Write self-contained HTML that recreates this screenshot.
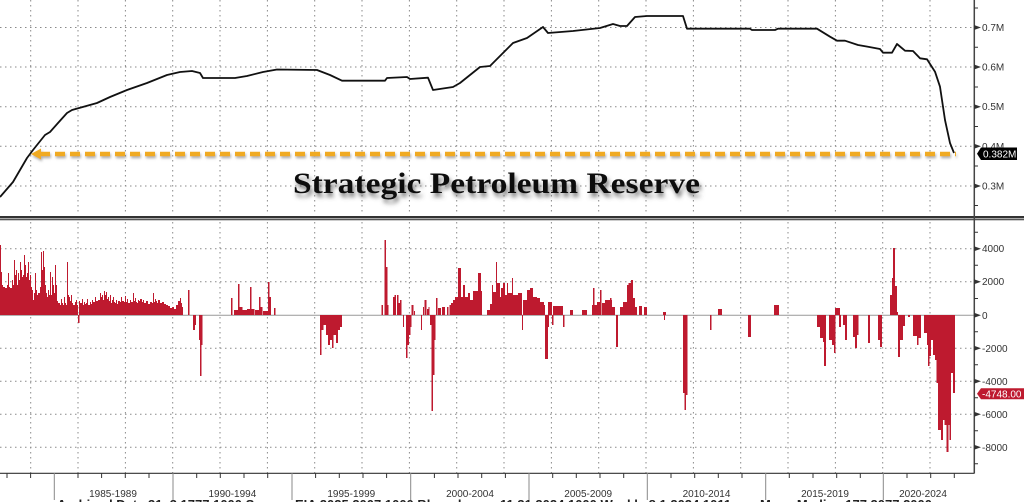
<!DOCTYPE html>
<html><head><meta charset="utf-8"><style>
html,body{margin:0;padding:0;background:#fff;}
svg{display:block;}
text{font-family:"Liberation Sans",sans-serif;}
</style></head><body>
<svg width="1024" height="502" viewBox="0 0 1024 502" xmlns="http://www.w3.org/2000/svg">
<defs>
<filter id="sh" x="-10%" y="-40%" width="120%" height="190%">
<feGaussianBlur in="SourceAlpha" stdDeviation="2"/>
<feOffset dx="2" dy="4" result="b"/>
<feFlood flood-color="#555" flood-opacity="0.75"/>
<feComposite in2="b" operator="in"/>
<feMerge><feMergeNode/><feMergeNode in="SourceGraphic"/></feMerge>
</filter>
<filter id="sh2" x="-5%" y="-200%" width="110%" height="500%">
<feGaussianBlur in="SourceAlpha" stdDeviation="1.2"/>
<feOffset dx="1" dy="2" result="b"/>
<feFlood flood-color="#777" flood-opacity="0.6"/>
<feComposite in2="b" operator="in"/>
<feMerge><feMergeNode/><feMergeNode in="SourceGraphic"/></feMerge>
</filter>
</defs>
<rect width="1024" height="502" fill="#fff"/>

<g stroke="#8a8a8a" stroke-width="1" stroke-dasharray="1.5 3.5">
<path d="M30.7 0V215M78 0V215M125.4 0V215M172.7 0V215M220 0V215M267.4 0V215M314.7 0V215M362 0V215M409.4 0V215M456.7 0V215M504 0V215M551.4 0V215M598.7 0V215M646 0V215M693.4 0V215M740.7 0V215M788 0V215M835.4 0V215M882.7 0V215M930 0V215"/>
<path d="M30.7 222V473M78 222V473M125.4 222V473M172.7 222V473M220 222V473M267.4 222V473M314.7 222V473M362 222V473M409.4 222V473M456.7 222V473M504 222V473M551.4 222V473M598.7 222V473M646 222V473M693.4 222V473M740.7 222V473M788 222V473M835.4 222V473M882.7 222V473M930 222V473"/>
<path d="M0 27.5H974M0 67H974M0 106.7H974M0 146.3H974M0 186H974"/>
<path d="M0 248.7H974M0 281.7H974M0 348.3H974M0 381.3H974M0 414.3H974M0 447.3H974"/>
</g>

<rect x="0" y="216" width="1024" height="2" fill="#333"/>
<rect x="0" y="218.5" width="1024" height="1.8" fill="#555"/>

<polyline fill="none" stroke="#111" stroke-width="1.8" stroke-linejoin="round" points="0,197 13,182 27,158 33,150 45,135 50,132 58,123 67,113 72,110 97,103 110,97 127,90 147,83 167,75 180,72 192,71 200,73 203,78 235,78 247,76 263,72 277,69.5 317,70 330,75 342,80.7 385,80.7 387,78 407,77 410,79 428,77.7 433,90 453,87 460,83 480,67 490,66 513,43 527,38 543,27 548,33 573,31 600,28 613,24 620,26 627,26 635,17 647,16 683,16 687,28.7 750,28.7 752,30 775,30 778,28.7 817,28.7 830,36.7 837,40.7 845,40.7 858,45 868,46.7 880,49 883,52.7 892,52.7 897,44 905,50.7 913,51 920,58.3 927,59.3 935,71.7 940,86.7 945,120 950,143 954,153"/>

<g filter="url(#sh2)">
<line x1="40" y1="154" x2="956" y2="154" stroke="#f0aa22" stroke-width="4.5" stroke-dasharray="10 5"/>
<polygon points="31,154 41,148.5 41,159.5" fill="#f0aa22"/>
</g>

<text x="293" y="193" font-family="Liberation Serif, serif" font-weight="bold" font-size="30" fill="#111" textLength="407" lengthAdjust="spacingAndGlyphs" filter="url(#sh)" style="font-family:'Liberation Serif',serif">Strategic Petroleum Reserve</text>

<line x1="0" y1="315.3" x2="974" y2="315.3" stroke="#999" stroke-width="1"/>

<g fill="#be1a2f">
<path d="M0 315 V245 H1 V272 H2 V285 H3 V287 H5 V288 H7 V285 H8 V273 H9 V287 H10 V288 H12 V280 H13 V285 H14 V260 H15 V275 H16 V270 H17 V285 H18 V273 H19 V280 H20 V262 H21 V270 H22 V277 H23 V275 H24 V255 H25 V265 H26 V277 H27 V273 H28 V262 H29 V280 H30 V275 H31 V287 H32 V290 H33 V300 H34 V293 H35 V273 H36 V290 H37 V295 H38 V293 H40 V287 H41 V252 H42 V270 H43 V251 H44 V267 H45 V285 H46 V293 H47 V297 H48 V290 H49 V295 H50 V272 H51 V295 H52 V277 H53 V285 H54 V293 H55 V265 H56 V285 H57 V301 H58 V303 H60 V305 H61 V299 H62 V303 H63 V305 H64 V297 H65 V303 H66 V305 H67 V262 H68 V295 H69 V297 H70 V301 H71 V295 H72 V303 H73 V305 H75 V302 H76 V300 H77 V305 H78 V315 H79 V301 H80 V303 H82 V299 H83 V305 H84 V302 H85 V304 H86 V303 H87 V299 H88 V305 H90 V302 H91 V304 H92 V300 H93 V302 H95 V297 H96 V301 H98 V300 H100 V293 H101 V297 H102 V295 H103 V300 H104 V291 H105 V295 H106 V292 H107 V299 H108 V297 H109 V301 H110 V295 H111 V303 H112 V300 H113 V297 H114 V302 H115 V303 H116 V300 H117 V304 H118 V301 H120 V302 H121 V297 H122 V301 H124 V302 H125 V296 H126 V302 H127 V299 H128 V303 H130 V300 H131 V302 H133 V293 H134 V301 H135 V298 H136 V302 H137 V303 H138 V300 H139 V301 H140 V299 H142 V302 H143 V300 H144 V303 H146 V301 H148 V304 H150 V302 H152 V303 H153 V293 H154 V302 H155 V299 H156 V301 H157 V303 H158 V300 H160 V303 H162 V302 H164 V304 H166 V305 H168 V306 H170 V308 H172 V307 H174 V309 H176 V305 H178 V301 H180 V298 H181 V303 H182 V307 H183 V315 H188 V290 H189.5 V315 Z"/>
<path d="M451 315 V303 H453 V300 H455 V297 H458 V268 H461 V297 H463 V285 H465 V297 H468 V293 H470 V300 H473 V291 H478 V273 H481 V291 H482 V315 H487 V310 H490 V304 H492 V285 H493 V292 H496 V262 H497 V283 H500 V297 H501 V288 H503 V283 H505 V295 H507 V283 H508 V293 H512 V278 H513 V295 H518 V293 H522 V315 H523 V300 H527 V290 H530 V288 H533 V297 H537 V298 H540 V302 H544 V305 H545 V315 Z"/>
<path d="M924 315 V333 H927 V345 H928 V366 H929.5 V356 H931 V340 H933 V355 H935 V360 H936.5 V383 H938 V430 H941 V440 H943 V420 H944.5 V425 H946.5 V452 H948.5 V425 H949.5 V440 H951 V373 H953 V393 H955 V315 Z"/>
<rect x="231" y="298" width="1.5" height="17"/>
<rect x="234" y="310" width="4" height="5"/>
<rect x="238" y="284" width="1.5" height="31"/>
<rect x="239.5" y="307" width="3" height="8"/>
<rect x="242" y="310" width="5" height="5"/>
<rect x="247" y="309" width="3" height="6"/>
<rect x="250" y="287" width="1.5" height="28"/>
<rect x="251.5" y="309" width="3" height="6"/>
<rect x="255" y="310" width="4" height="5"/>
<rect x="259" y="297" width="1.5" height="18"/>
<rect x="260.5" y="307" width="2" height="8"/>
<rect x="263" y="311" width="3" height="4"/>
<rect x="266" y="311" width="2" height="4"/>
<rect x="268" y="282" width="1.5" height="33"/>
<rect x="269.5" y="297" width="1.5" height="18"/>
<rect x="274" y="308" width="1.5" height="7"/>
<rect x="381.5" y="305" width="1.5" height="10"/>
<rect x="384.5" y="240" width="1.5" height="75"/>
<rect x="386" y="267" width="1.5" height="48"/>
<rect x="387.5" y="305" width="1" height="10"/>
<rect x="393" y="297" width="1.5" height="18"/>
<rect x="394.5" y="295" width="1.5" height="20"/>
<rect x="397" y="295" width="1.5" height="20"/>
<rect x="398.5" y="303" width="1.5" height="12"/>
<rect x="400" y="300" width="1.5" height="15"/>
<rect x="411.5" y="305" width="2" height="10"/>
<rect x="414" y="311" width="1" height="4"/>
<rect x="423" y="307" width="1" height="8"/>
<rect x="424.5" y="300" width="2" height="15"/>
<rect x="427" y="309" width="1.5" height="6"/>
<rect x="428.5" y="307" width="1" height="8"/>
<rect x="436" y="298" width="1.5" height="17"/>
<rect x="438" y="308" width="3" height="7"/>
<rect x="442" y="307" width="3" height="8"/>
<rect x="447" y="307" width="1.5" height="8"/>
<rect x="449.5" y="305" width="1.5" height="10"/>
<rect x="548" y="302" width="4" height="13"/>
<rect x="553" y="306" width="10" height="9"/>
<rect x="570" y="310" width="3" height="5"/>
<rect x="582" y="310" width="5" height="5"/>
<rect x="592" y="305" width="5" height="10"/>
<rect x="593" y="288" width="1.5" height="27"/>
<rect x="597" y="302" width="3" height="13"/>
<rect x="600" y="290" width="1.5" height="25"/>
<rect x="602" y="303" width="3" height="12"/>
<rect x="605" y="300" width="7" height="15"/>
<rect x="610" y="298" width="1.5" height="17"/>
<rect x="612" y="307" width="3" height="8"/>
<rect x="620" y="307" width="3" height="8"/>
<rect x="623" y="302" width="4" height="13"/>
<rect x="627" y="285" width="1.5" height="30"/>
<rect x="628.5" y="283" width="2.5" height="32"/>
<rect x="631" y="280" width="2" height="35"/>
<rect x="633" y="298" width="2" height="17"/>
<rect x="635" y="307" width="2" height="8"/>
<rect x="639" y="306" width="3" height="9"/>
<rect x="644" y="307" width="3" height="8"/>
<rect x="663" y="312" width="3" height="3"/>
<rect x="718" y="309" width="4" height="6"/>
<rect x="774" y="305" width="5" height="10"/>
<rect x="835" y="308" width="5" height="7"/>
<rect x="890" y="295" width="2" height="20"/>
<rect x="892" y="278" width="1" height="37"/>
<rect x="893" y="248" width="2" height="67"/>
<rect x="895" y="286" width="2" height="29"/>
<rect x="897" y="312" width="1" height="3"/>
<rect x="78" y="315" width="1.5" height="8"/>
<rect x="193" y="315" width="2" height="15"/>
<rect x="195" y="315" width="1" height="10"/>
<rect x="199" y="315" width="1" height="25"/>
<rect x="200" y="315" width="1.5" height="61"/>
<rect x="201.5" y="315" width="1" height="30"/>
<rect x="320" y="315" width="1.5" height="40"/>
<rect x="321.5" y="315" width="2" height="15"/>
<rect x="323.5" y="315" width="2.5" height="10"/>
<rect x="326" y="315" width="2" height="20"/>
<rect x="328" y="315" width="2" height="30"/>
<rect x="330" y="315" width="2" height="25"/>
<rect x="332" y="315" width="1.5" height="33"/>
<rect x="333.5" y="315" width="2.5" height="20"/>
<rect x="336" y="315" width="2" height="28"/>
<rect x="338" y="315" width="2" height="15"/>
<rect x="340" y="315" width="2" height="12"/>
<rect x="403" y="315" width="1" height="12"/>
<rect x="406" y="315" width="1.5" height="43"/>
<rect x="407.5" y="315" width="1.5" height="30"/>
<rect x="409" y="315" width="1.5" height="20"/>
<rect x="410.5" y="315" width="1" height="12"/>
<rect x="421" y="315" width="1" height="15"/>
<rect x="430" y="315" width="1.5" height="10"/>
<rect x="431.5" y="315" width="1.5" height="96"/>
<rect x="433" y="315" width="1.5" height="60"/>
<rect x="434.5" y="315" width="1" height="25"/>
<rect x="522" y="315" width="1" height="15"/>
<rect x="545" y="315" width="3" height="44"/>
<rect x="548" y="315" width="1" height="12"/>
<rect x="552" y="315" width="1.5" height="10"/>
<rect x="563" y="315" width="1.5" height="12"/>
<rect x="616" y="315" width="2" height="32"/>
<rect x="664" y="315" width="1" height="5"/>
<rect x="683" y="315" width="1.5" height="78"/>
<rect x="684.5" y="315" width="1.5" height="95"/>
<rect x="686" y="315" width="1.5" height="80"/>
<rect x="710" y="315" width="1.5" height="15"/>
<rect x="748" y="315" width="3" height="22"/>
<rect x="817" y="315" width="3" height="12"/>
<rect x="820" y="315" width="3" height="23"/>
<rect x="823" y="315" width="1" height="27"/>
<rect x="824" y="315" width="2" height="51"/>
<rect x="829" y="315" width="3" height="25"/>
<rect x="832" y="315" width="2" height="30"/>
<rect x="834" y="315" width="1.5" height="38"/>
<rect x="839" y="315" width="2" height="12"/>
<rect x="843" y="315" width="2" height="10"/>
<rect x="845" y="315" width="2" height="25"/>
<rect x="853" y="315" width="2" height="22"/>
<rect x="855" y="315" width="2" height="33"/>
<rect x="857" y="315" width="1.5" height="20"/>
<rect x="868" y="315" width="2" height="28"/>
<rect x="878" y="315" width="2" height="25"/>
<rect x="880" y="315" width="2" height="32"/>
<rect x="898" y="315" width="2" height="42"/>
<rect x="900" y="315" width="3" height="25"/>
<rect x="903" y="315" width="2" height="11"/>
<rect x="908" y="315" width="2" height="2"/>
<rect x="913" y="315" width="4" height="21"/>
<rect x="917" y="315" width="1.5" height="30"/>
<rect x="918.5" y="315" width="2.5" height="23"/>
</g>

<line x1="974.3" y1="0" x2="974.3" y2="473.5" stroke="#444" stroke-width="1.5"/>
<line x1="0" y1="473.3" x2="974.3" y2="473.3" stroke="#333" stroke-width="1.2"/>

<g fill="#333">
<polygon points="974,25 981,27.5 974,30"/>
<polygon points="974,64.5 981,67 974,69.5"/>
<polygon points="974,104.2 981,106.7 974,109.2"/>
<polygon points="974,143.8 981,146.3 974,148.8"/>
<polygon points="974,183.5 981,186 974,188.5"/>
<polygon points="974,246.2 981,248.7 974,251.2"/>
<polygon points="974,279.2 981,281.7 974,284.2"/>
<polygon points="974,312.8 981,315.3 974,317.8"/>
<polygon points="974,345.8 981,348.3 974,350.8"/>
<polygon points="974,378.8 981,381.3 974,383.8"/>
<polygon points="974,411.8 981,414.3 974,416.8"/>
<polygon points="974,444.8 981,447.3 974,449.8"/>
</g>
<g stroke="#333" stroke-width="1">
<path d="M974 8H978M974 47.3H978M974 87H978M974 126.5H978M974 166H978M974 205.5H978"/>
<path d="M974 232.2H978M974 265.2H978M974 298.5H978M974 331.8H978M974 364.8H978M974 397.8H978M974 430.8H978M974 463.8H978"/>
</g>

<g font-size="10" fill="#333">
<text x="982" y="31">0.7M</text>
<text x="982" y="70.5">0.6M</text>
<text x="982" y="110.2">0.5M</text>
<text x="982" y="149.8">0.4M</text>
<text x="982" y="189.5">0.3M</text>
<text x="982" y="252.2">4000</text>
<text x="982" y="285.2">2000</text>
<text x="982" y="318.8">0</text>
<text x="982" y="351.8">-2000</text>
<text x="982" y="384.8">-4000</text>
<text x="982" y="417.8">-6000</text>
<text x="982" y="450.8">-8000</text>
</g>

<polygon points="977,153.8 981,147.5 1017,147.5 1017,160 981,160" fill="#000"/>
<text x="983" y="157.7" font-size="10" fill="#fff">0.382M</text>
<polygon points="977,393.8 981,388.3 1024,388.3 1024,399.3 981,399.3" fill="#be1a2f"/>
<text x="982" y="397.6" font-size="10" fill="#fff">-4748.00</text>

<g stroke="#888" stroke-width="1">
<path d="M54.3 473V500M173 473V500M292 473V500M410.7 473V500M529 473V500M647.3 473V500M765.7 473V500M883.3 473V500"/>
</g>
<g stroke="#333" stroke-width="1">
<path d="M7 473V478M30.6 473V478M78 473V478M101.6 473V478M125.3 473V478M149 473V478M196.7 473V478M220.3 473V478M244 473V478M267.7 473V478M315.6 473V478M339.3 473V478M363 473V478M386.6 473V478M434.4 473V478M458 473V478M481.7 473V478M505.4 473V478M552.7 473V478M576.3 473V478M600 473V478M623.7 473V478M671 473V478M694.7 473V478M718.3 473V478M742 473V478M789.3 473V478M813 473V478M836.7 473V478M860.3 473V478M907 473V478M930.7 473V478M954.3 473V478"/>
</g>

<g font-size="10" fill="#333" text-anchor="middle">
<text x="113" y="497">1985-1989</text>
<text x="232.4" y="497">1990-1994</text>
<text x="351.3" y="497">1995-1999</text>
<text x="470" y="497">2000-2004</text>
<text x="588.2" y="497">2005-2009</text>
<text x="706.5" y="497">2010-2014</text>
<text x="825" y="497">2015-2019</text>
<text x="923" y="497">2020-2024</text>
</g>

<g font-size="13" font-weight="bold" fill="#222">
<text x="57" y="509">Archived Data 31, 3 1777 1000 Source</text>
<text x="295" y="509">EIA 2025 2007 1000 Bloomberg</text>
<text x="500" y="509">11 31 2024 1000 Weekly 8 1 2024 1011</text>
<text x="760" y="509">Mean Median 177 2077 2000</text>
</g>
</svg>
</body></html>
